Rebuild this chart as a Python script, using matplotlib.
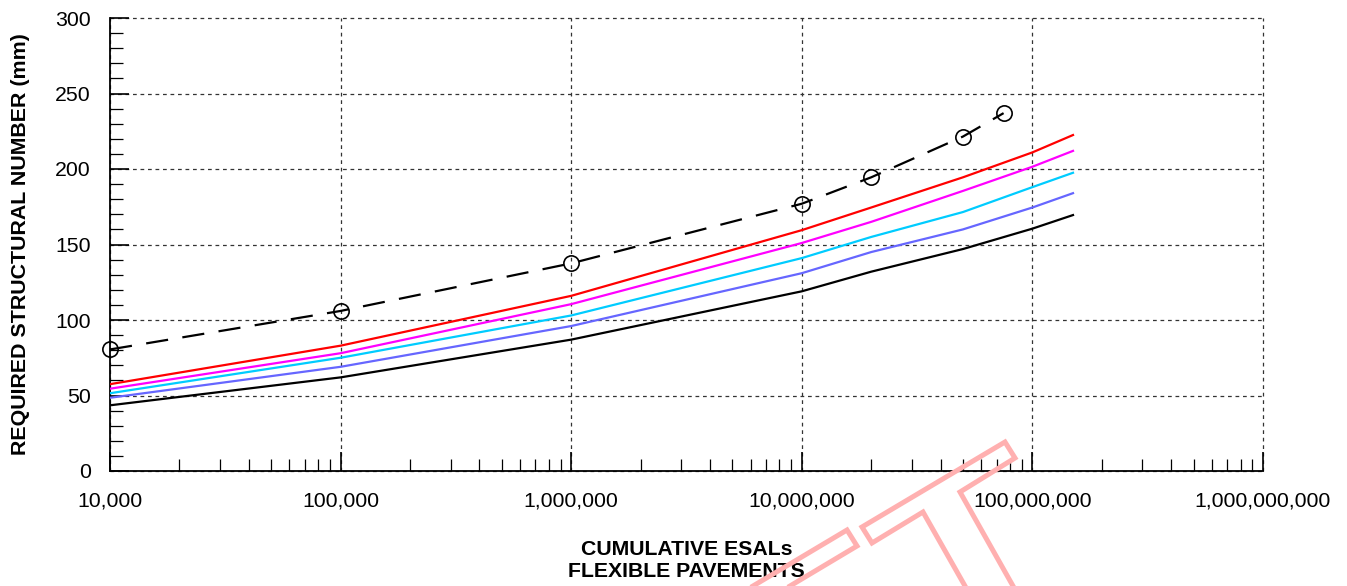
import numpy as np
import matplotlib
matplotlib.use("Agg")
import matplotlib.pyplot as plt
from matplotlib.lines import Line2D
from matplotlib.ticker import FuncFormatter, LogLocator, MultipleLocator

plt.rcParams['font.family'] = ['Liberation Sans', 'DejaVu Sans']

# cumulative ESALs where the design curves are read
esals = [1e4, 1e5, 1e6, 1e7, 2e7, 5e7, 1e8, 1.5e8]
sn_red = [57.5, 83, 116, 159.5, 174.5, 194.5, 211, 222.5]
sn_magenta = [54.5, 78, 110.5, 151, 165, 185.5, 201.5, 212]
sn_cyan = [51.5, 75, 103, 141, 155, 171.5, 188, 197.5]
sn_blue = [48.5, 69, 96, 131, 145, 160, 174.5, 184]
sn_black = [43.5, 62, 87, 119, 132, 147, 160.5, 169.5]

# dashed curve with circle markers
esals_pts = [1e4, 1e5, 1e6, 1e7, 2e7, 5e7, 7.5e7]
sn_pts = [80.5, 106, 137.5, 177, 194.5, 221.5, 237]

# watermark outline (pixel coords of the 1347x586 picture)
wm_left = [(753, 586), (847, 530), (857, 546), (790, 586)]
wm_right = [(965, 586), (923, 512), (872, 543), (862, 527),
            (1005, 442), (1015, 458), (960, 492), (1013, 586)]

W, H = 1347, 586
fig = plt.figure(figsize=(W / 100, H / 100), dpi=100)
ax = fig.add_axes([110 / W, 1 - 471 / H, (1263 - 110) / W, (471 - 18) / H])

series = [(sn_black, 'black'), (sn_blue, '#6666FF'), (sn_cyan, '#00CCFF'),
          (sn_magenta, '#FF00FF'), (sn_red, '#FF0000')]
for vals, col in series:
    ax.plot(esals, vals, color=col, lw=1.6, zorder=3)

ax.plot(esals_pts, sn_pts, color='black', lw=1.6, dashes=(10, 6.5),
        marker='o', ms=11, mfc='none', mec='black', mew=1.2,
        clip_on=False, zorder=4)

ax.set_xscale('log')
ax.set_xlim(1e4, 1e9)
ax.set_ylim(0, 300)
ax.xaxis.set_major_locator(LogLocator(base=10, numticks=10))
ax.xaxis.set_minor_locator(LogLocator(base=10, subs=np.arange(2, 10), numticks=20))
ax.xaxis.set_major_formatter(FuncFormatter(lambda v, p: f"{v:,.0f}"))
ax.xaxis.set_minor_formatter(FuncFormatter(lambda v, p: ""))
ax.yaxis.set_major_locator(MultipleLocator(50))
ax.yaxis.set_minor_locator(MultipleLocator(10))

ax.tick_params(which='major', direction='in', length=14, width=1.2,
               labelsize=15.3, pad=14, color='black')
ax.tick_params(which='minor', direction='in', length=9, width=0.9, color='black')
ax.tick_params(axis='x', which='major', pad=15)

ax.grid(True, which='major', color='#333333', lw=0.9, ls=(0, (3, 3)))
for gl in ax.get_xgridlines() + ax.get_ygridlines():
    gl.set_clip_on(False)
for s in ['top', 'right']:
    ax.spines[s].set_visible(False)
for s in ['left', 'bottom']:
    ax.spines[s].set_linewidth(1.3)

ax.set_ylabel("REQUIRED STRUCTURAL NUMBER (mm)", fontsize=15.4,
              fontweight='bold', labelpad=18)
ax.set_xlabel("CUMULATIVE ESALs\nFLEXIBLE PAVEMENTS", fontsize=15.3,
              fontweight='bold', labelpad=21, linespacing=1.2)

for pts in (wm_left, wm_right):
    xs = [p[0] / W for p in pts]
    ys = [1 - p[1] / H for p in pts]
    fig.add_artist(Line2D(xs, ys, transform=fig.transFigure,
                          color='#FFB0B0', lw=3.6, solid_joinstyle='miter',
                          zorder=10))

fig.savefig("out.png", dpi=100)
